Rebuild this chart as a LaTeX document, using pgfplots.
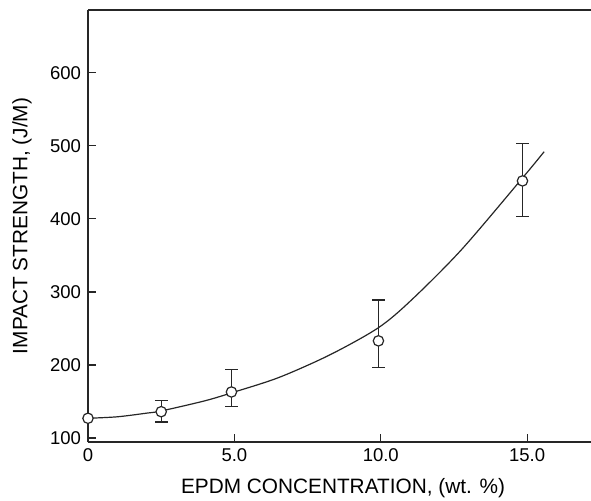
\documentclass[border=0pt]{standalone}
\usepackage{fontspec}
\setmainfont{Liberation Sans}
\usepackage{pgfplots}
\pgfplotsset{compat=1.18}
\begin{document}
\begin{tikzpicture}
\begin{axis}[
  at={(0,0)}, anchor=south west,
  scale only axis, width=251.5pt, height=216pt,
  xmin=0, xmax=17.18, ymin=94.5, ymax=686,
  axis x line*=bottom, axis y line*=left,
  axis line style={-, black!85, line width=0.6pt},
  xtick={0,5,10,15}, xticklabels={0,5.0,10.0,15.0},
  ytick={100,200,300,400,500,600},
  tick align=inside, major tick length=4.2pt,
  tick style={black!85, line width=0.6pt},
  tick label style={font=\fontsize{9.25}{11}\selectfont},
  /pgf/number format/assume math mode=true,
  xlabel={EPDM CONCENTRATION, (wt. \%)},
  ylabel={IMPACT STRENGTH, (J/M)},
  label style={font=\fontsize{10.4}{12}\selectfont},
  xlabel style={at={(axis description cs:0.507,-0.1065)}, anchor=center},
  ylabel style={at={(axis description cs:-0.1312,0.5)}, anchor=center},
  clip=false,
]
\addplot[black!85, line width=0.6pt, smooth] coordinates {
  (0,127) (1,129) (2,134) (2.5,137) (4,151) (5,163) (6.53,183) (8.27,214)
  (9.92,251) (11.05,289) (12.76,358) (14.84,456) (15.58,492)
};
\addplot[only marks, mark=*, mark size=2.6pt,
  mark options={fill=white, draw=black!85, line width=0.6pt},
  error bars/.cd, y dir=both, y explicit,
  error bar style={black!85, line width=0.6pt},
  error mark options={rotate=90, black!85, line width=0.6pt, mark size=3.2pt}]
  coordinates {
  (0,127)
  (2.5,136) += (0,15) -= (0,14)
  (4.9,163) += (0,31) -= (0,20)
  (9.92,233) += (0,56) -= (0,37)
  (14.84,452) += (0,51) -= (0,49)
};
\draw[black!85, line width=0.6pt] (rel axis cs:0,1) -- (rel axis cs:1,1);
\end{axis}
\pgfresetboundingbox
\useasboundingbox (-44pt,-29pt) rectangle (251.5pt,221pt);
\end{tikzpicture}
\end{document}
